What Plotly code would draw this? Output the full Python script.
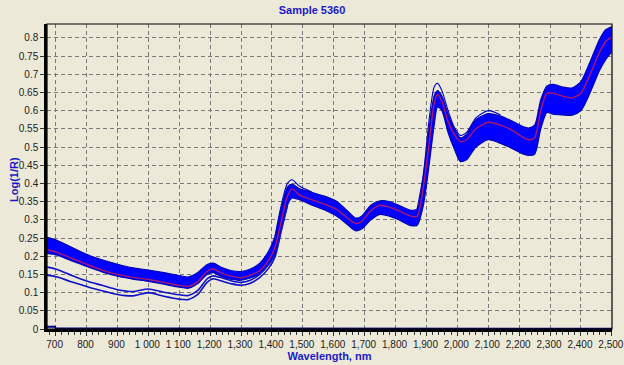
import plotly.graph_objects as go

# Wavelength grid (nm) for the spectra
wl = [672, 700, 750, 800, 850, 900, 950, 1000, 1050, 1100, 1130, 1160, 1190, 1210,
      1240, 1270, 1300, 1330, 1360, 1390, 1410, 1430, 1450, 1465, 1490, 1530, 1570,
      1610, 1640, 1670, 1690, 1720, 1750, 1780, 1810, 1850, 1870, 1890, 1910, 1925,
      1936, 1950, 1970, 1990, 2010, 2030, 2060, 2100, 2140, 2180, 2210, 2230, 2250,
      2270, 2290, 2310, 2340, 2370, 2400, 2430, 2460, 2480, 2500]

# Upper edge of the blue bundle of spectra
band_top = [0.252, 0.245, 0.225, 0.205, 0.190, 0.178, 0.168, 0.162, 0.155, 0.147, 0.143,
            0.155, 0.177, 0.181, 0.168, 0.160, 0.158, 0.165, 0.180, 0.215, 0.255, 0.330,
            0.390, 0.398, 0.385, 0.375, 0.365, 0.350, 0.328, 0.305, 0.310, 0.340, 0.352,
            0.350, 0.340, 0.326, 0.330, 0.420, 0.560, 0.640, 0.655, 0.640, 0.590, 0.550,
            0.525, 0.535, 0.575, 0.592, 0.585, 0.570, 0.557, 0.552, 0.560, 0.630, 0.668,
            0.672, 0.665, 0.662, 0.680, 0.735, 0.795, 0.822, 0.830]

# Red (mean) spectrum
red_mean = [0.217, 0.212, 0.195, 0.178, 0.162, 0.150, 0.142, 0.136, 0.128, 0.120, 0.117,
            0.130, 0.158, 0.165, 0.152, 0.145, 0.141, 0.148, 0.160, 0.190, 0.225, 0.295,
            0.365, 0.385, 0.368, 0.355, 0.343, 0.328, 0.308, 0.290, 0.295, 0.325, 0.340,
            0.335, 0.325, 0.310, 0.310, 0.390, 0.520, 0.620, 0.645, 0.625, 0.570, 0.535,
            0.515, 0.520, 0.550, 0.568, 0.560, 0.545, 0.528, 0.520, 0.525, 0.600, 0.648,
            0.648, 0.640, 0.635, 0.648, 0.700, 0.760, 0.790, 0.803]

# Lower edge of the blue bundle of spectra
band_bot = [0.208, 0.204, 0.188, 0.172, 0.157, 0.145, 0.137, 0.131, 0.123, 0.115, 0.112,
            0.125, 0.150, 0.155, 0.143, 0.136, 0.134, 0.140, 0.152, 0.180, 0.210, 0.275,
            0.340, 0.360, 0.355, 0.340, 0.327, 0.310, 0.290, 0.270, 0.275, 0.300, 0.315,
            0.310, 0.300, 0.284, 0.285, 0.340, 0.460, 0.560, 0.610, 0.600, 0.540, 0.495,
            0.460, 0.465, 0.500, 0.520, 0.510, 0.495, 0.482, 0.477, 0.480, 0.550, 0.595,
            0.590, 0.588, 0.587, 0.600, 0.650, 0.710, 0.740, 0.762]

# Low outlier spectra (visible below the bundle up to ~1450 nm)
lo_wl = [672, 700, 750, 800, 850, 900, 950, 1000, 1050, 1100, 1130, 1160, 1190, 1210,
         1240, 1270, 1300, 1330, 1360, 1390, 1410, 1430, 1450]
lo_1 = [0.170, 0.165, 0.148, 0.132, 0.120, 0.108, 0.103, 0.110, 0.101, 0.094, 0.092,
        0.106, 0.138, 0.146, 0.140, 0.132, 0.128, 0.134, 0.150, 0.178, 0.205, 0.272, 0.340]
lo_2 = [0.148, 0.144, 0.130, 0.117, 0.105, 0.095, 0.091, 0.100, 0.090, 0.082, 0.081,
        0.095, 0.128, 0.138, 0.131, 0.124, 0.120, 0.126, 0.141, 0.168, 0.198, 0.270, 0.340]

# High outlier spectrum above the bundle at the absorption peaks
hi_wl_a = [1410, 1430, 1450, 1465, 1490, 1530]
hi_a = [0.255, 0.340, 0.400, 0.410, 0.392, 0.376]
hi_wl_b = [1870, 1890, 1910, 1925, 1936, 1950, 1970, 1990, 2010, 2030, 2060, 2100, 2140]
hi_b = [0.330, 0.425, 0.585, 0.665, 0.675, 0.655, 0.600, 0.555, 0.532, 0.540, 0.580, 0.600, 0.588]

# Near-zero spectrum lying on the baseline
base_wl = [672, 698, 700, 900, 905, 2110, 2115, 2160, 2165, 2270, 2275, 2300, 2305, 2500]
base_val = [0.006, 0.006, 0.002, 0.002, 0.0006, 0.0006, 0.002, 0.002, 0.0006, 0.0006,
            0.0018, 0.0018, 0.0006, 0.0006]

x_ticks = list(range(700, 2501, 100))
x_labels = ["700", "800", "900", "1 000", "1 100", "1,200", "1,300", "1,400", "1,500",
            "1,600", "1,700", "1,800", "1,900", "2,000", "2,100", "2,200", "2,300",
            "2,400", "2,500"]
y_ticks = [i * 0.05 for i in range(17)]
y_labels = ["0", "0.05", "0.1", "0.15", "0.2", "0.25", "0.3", "0.35", "0.4", "0.45",
            "0.5", "0.55", "0.6", "0.65", "0.7", "0.75", "0.8"]

BLUE = "#0000FF"
DARK = "#0000B8"
SM = 0.7

fig = go.Figure()
fig.add_trace(go.Scatter(x=wl, y=band_top, mode="lines",
                         line=dict(color=DARK, width=1.2, shape="spline", smoothing=SM)))
fig.add_trace(go.Scatter(x=wl, y=band_bot, mode="lines", fill="tonexty", fillcolor=BLUE,
                         line=dict(color=DARK, width=1.2, shape="spline", smoothing=SM)))
for ys in (lo_1, lo_2):
    fig.add_trace(go.Scatter(x=lo_wl, y=ys, mode="lines",
                             line=dict(color="#1010C8", width=1.6, shape="spline", smoothing=SM)))
fig.add_trace(go.Scatter(x=hi_wl_a, y=hi_a, mode="lines",
                         line=dict(color="#0000C0", width=1.1, shape="spline", smoothing=SM)))
fig.add_trace(go.Scatter(x=hi_wl_b, y=hi_b, mode="lines",
                         line=dict(color="#0000C0", width=1.1, shape="spline", smoothing=SM)))
fig.add_trace(go.Scatter(x=wl, y=red_mean, mode="lines",
                         line=dict(color="#A8186E", width=1.4, shape="spline", smoothing=SM)))
fig.add_trace(go.Scatter(x=base_wl, y=base_val, mode="lines", cliponaxis=False,
                         line=dict(color="#000080", width=2)))

FONT = "Liberation Sans, Arial, sans-serif"
axis_font = dict(family=FONT, size=10, color="#222222")
title_font = dict(family=FONT, size=11, color="#1A1AC8")

fig.update_layout(
    width=624, height=365,
    margin=dict(l=47, r=12, t=24, b=36, autoexpand=False),
    paper_bgcolor="#ECE9D8", plot_bgcolor="#ECE9D8",
    showlegend=False,
    title=dict(text="<b>Sample 5360</b>", x=0.5, xanchor="center", y=0.972, yanchor="middle",
               font=title_font),
    xaxis=dict(range=[672, 2500.5], tickvals=x_ticks, ticktext=x_labels, tickfont=axis_font,
               automargin=False, ticklabeloverflow="allow", ticklabelshift=-1,
               showgrid=True, gridcolor="#7A7A7A", griddash="4px,3px", gridwidth=1,
               showline=True, linecolor="black", linewidth=2.5, zeroline=False,
               ticks="outside", ticklen=4, tickcolor="#333333",
               minor=dict(dtick=20, tick0=700, ticks="outside", ticklen=3, tickcolor="#333333", showgrid=False),
               title=dict(text="<b>Wavelength, nm</b>", font=title_font, standoff=3)),
    yaxis=dict(range=[0, 0.838], tickvals=y_ticks, ticktext=y_labels, tickfont=axis_font,
               automargin=False,
               showgrid=True, gridcolor="#7A7A7A", griddash="4px,3px", gridwidth=1,
               showline=True, linecolor="black", linewidth=2.5, zeroline=False,
               ticks="outside", ticklen=4, tickcolor="#333333"),
    annotations=[dict(text="<b>Log(1/R)</b>", xref="paper", yref="paper",
                      x=(14 - 47) / 565, y=(329 - 180) / 305, xanchor="center", yanchor="middle",
                      textangle=-90, showarrow=False, font=title_font)],
    shapes=[dict(type="rect", xref="paper", yref="paper", x0=0, y0=0, x1=1, y1=1,
                 line=dict(color="black", width=1.2), layer="above")],
)

fig.write_html("out.html", config={"displayModeBar": False},
               post_script="document.body.style.margin='0';document.body.style.background='#ECE9D8';")
